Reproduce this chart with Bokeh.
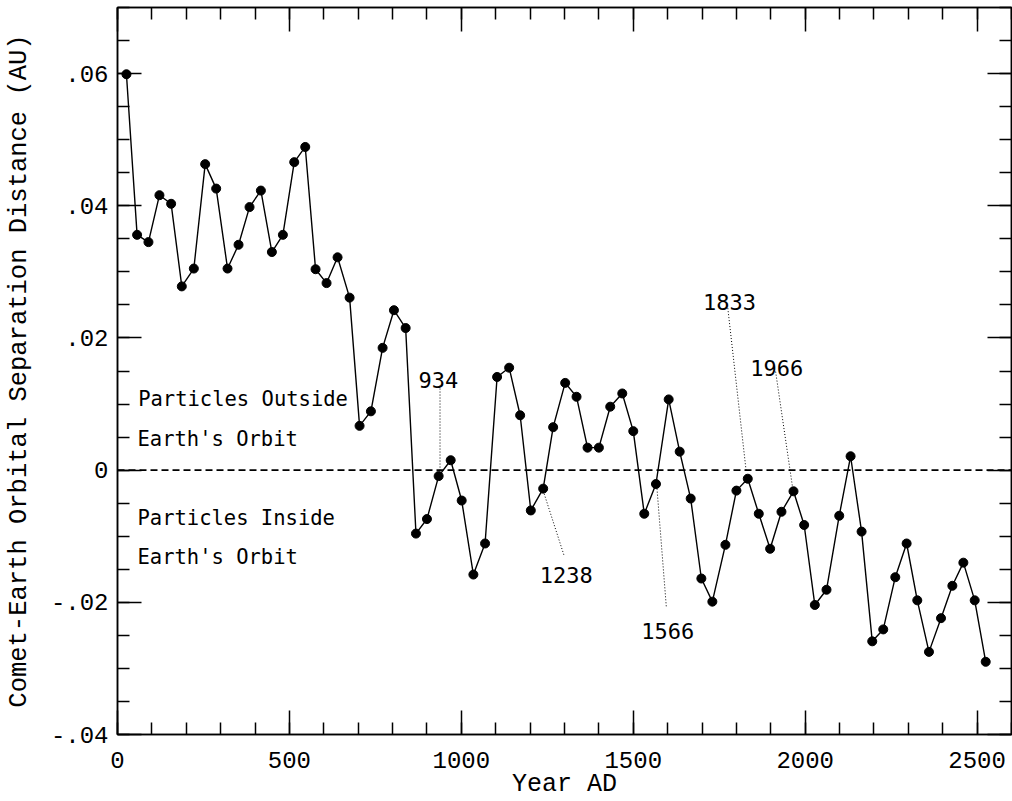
from bokeh.plotting import figure
from bokeh.models import (Range1d, LinearAxis, FixedTicker, CustomJSTickFormatter,
                          Span, ColumnDataSource)
from bokeh.embed import file_html
from bokeh.resources import INLINE
from bokeh.core.properties import value

# ---- data ----
years = [26, 57, 90, 122, 156, 187, 222, 255, 287, 320,
         352, 384, 417, 449, 481, 514, 546, 576, 608, 640,
         675, 704, 737, 771, 804, 838, 868, 900, 934, 969,
         1001, 1035, 1069, 1104, 1139, 1171, 1202, 1238, 1267, 1302,
         1335, 1367, 1400, 1433, 1468, 1500, 1532, 1566, 1603, 1635,
         1667, 1698, 1730, 1768, 1800, 1833, 1865, 1898, 1931, 1966,
         1997, 2028, 2062, 2099, 2132, 2164, 2195, 2227, 2262, 2295,
         2326, 2360, 2395, 2428, 2460, 2493, 2525]
separation = [0.0599, 0.0356, 0.0345, 0.0416, 0.0403, 0.0278, 0.0305, 0.0463, 0.0426, 0.0305,
              0.0341, 0.0398, 0.0423, 0.0330, 0.0356, 0.0466, 0.0489, 0.0304, 0.0283, 0.0322,
              0.0261, 0.0067, 0.0089, 0.0185, 0.0242, 0.0215, -0.0096, -0.0074, -0.0009, 0.0015,
              -0.0046, -0.0158, -0.0111, 0.0141, 0.0155, 0.0083, -0.0061, -0.0028, 0.0065, 0.0132,
              0.0111, 0.0034, 0.0034, 0.0096, 0.0116, 0.0059, -0.0066, -0.0021, 0.0107, 0.0028,
              -0.0043, -0.0164, -0.0199, -0.0113, -0.0031, -0.0013, -0.0066, -0.0119, -0.0063, -0.0032,
              -0.0083, -0.0204, -0.0181, -0.0069, 0.0021, -0.0093, -0.0259, -0.0241, -0.0162, -0.0111,
              -0.0197, -0.0275, -0.0224, -0.0175, -0.0140, -0.0197, -0.0290]

x_major_ticks = [0, 500, 1000, 1500, 2000, 2500]
y_major_ticks = [-0.04, -0.02, 0.0, 0.02, 0.04, 0.06]

# annotated returns (labels and their placements)
ann_labels = ["934", "1238", "1566", "1833", "1966"]
ann_text_x = [933, 1305, 1600, 1780, 1917]
ann_text_y = [0.0136, -0.0159, -0.0244, 0.0254, 0.0154]
lead_x0 = [938, 1298, 1596, 1775, 1914]
lead_y0 = [0.0128, -0.0128, -0.0206, 0.0245, 0.0149]
lead_x1 = [938, 1241, 1569, 1828, 1963]
lead_y1 = [0.0000, -0.0036, -0.0028, 0.0000, -0.0025]

region_labels = ["Particles Outside", "Earth's Orbit", "Particles Inside", "Earth's Orbit"]
region_x = [60, 58, 58, 58]
region_y = [0.0107, 0.0047, -0.0072, -0.0132]

MONO = "Liberation Mono"
MONO2 = "DejaVu Sans Mono"

p = figure(width=1012, height=801, x_range=Range1d(0, 2600), y_range=Range1d(-0.04, 0.07),
           output_backend="svg", toolbar_location=None,
           min_border_left=117, min_border_right=1, min_border_top=7, min_border_bottom=63)
p.xgrid.visible = False
p.ygrid.visible = False
p.outline_line_color = "black"
p.outline_line_width = 1.5
p.background_fill_color = "white"
p.border_fill_color = "white"

xt = FixedTicker(ticks=x_major_ticks, minor_ticks=list(range(0, 2601, 100)))
yt = FixedTicker(ticks=y_major_ticks, minor_ticks=[round(-0.04 + 0.005 * i, 4) for i in range(23)])

yfmt = CustomJSTickFormatter(code="""
if (Math.abs(tick) < 1e-9) return "0";
var s = Math.abs(tick).toFixed(2).replace(/^0/, "");
return (tick < 0 ? "-" : "") + s;
""")
blank = CustomJSTickFormatter(code='return "";')

def style_axis(ax):
    ax.axis_line_color = "black"
    ax.axis_line_width = 1.5
    ax.major_tick_line_color = "black"
    ax.minor_tick_line_color = "black"
    ax.major_tick_line_width = 1.5
    ax.minor_tick_line_width = 1.5
    ax.major_tick_in = 24
    ax.major_tick_out = 0
    ax.minor_tick_in = 12
    ax.minor_tick_out = 0

xa = p.xaxis[0]
xa.ticker = xt
style_axis(xa)
xa.major_label_text_font = MONO
xa.major_label_text_font_size = "24px"
xa.major_label_text_color = "black"
xa.major_label_standoff = 17
xa.axis_label = "Year AD"
xa.axis_label_text_font = MONO
xa.axis_label_text_font_size = "25px"
xa.axis_label_text_font_style = "normal"
xa.axis_label_text_color = "black"
xa.axis_label_standoff = -1

ya = p.yaxis[0]
ya.ticker = yt
ya.formatter = yfmt
style_axis(ya)
ya.major_label_text_font = MONO
ya.major_label_text_font_size = "24px"
ya.major_label_text_color = "black"
ya.major_label_standoff = 9
ya.axis_label = "Comet-Earth Orbital Separation Distance (AU)"
ya.axis_label_text_font = MONO
ya.axis_label_text_font_size = "25.5px"
ya.axis_label_text_font_style = "normal"
ya.axis_label_text_color = "black"
ya.axis_label_standoff = 14

top = LinearAxis(ticker=xt, formatter=blank, major_label_text_font_size="0px", major_label_standoff=0)
style_axis(top)
p.add_layout(top, "above")
right = LinearAxis(ticker=yt, formatter=blank, major_label_text_font_size="0px", major_label_standoff=0)
style_axis(right)
p.add_layout(right, "right")

# zero line
p.add_layout(Span(location=0, dimension="width", line_color="black", line_width=1.8, line_dash="7 4"))

# data
src = ColumnDataSource(dict(x=years, y=separation))
p.line("x", "y", source=src, line_color="black", line_width=1.4)
p.scatter("x", "y", source=src, size=9, fill_color="black", line_color="black")

# leaders
p.segment(x0=lead_x0, y0=lead_y0, x1=lead_x1, y1=lead_y1, line_color="black",
          line_width=1, line_dash="1 2")

p.text(x=ann_text_x, y=ann_text_y, text=ann_labels, text_align="center", text_baseline="alphabetic",
       text_font=value(MONO2), text_font_size="22px", text_color="black")
p.text(x=region_x, y=region_y, text=region_labels, text_align="left", text_baseline="alphabetic",
       text_font=value(MONO2), text_font_size="20.5px", text_color="black")

open("out.html", "w").write(file_html(p, INLINE))
